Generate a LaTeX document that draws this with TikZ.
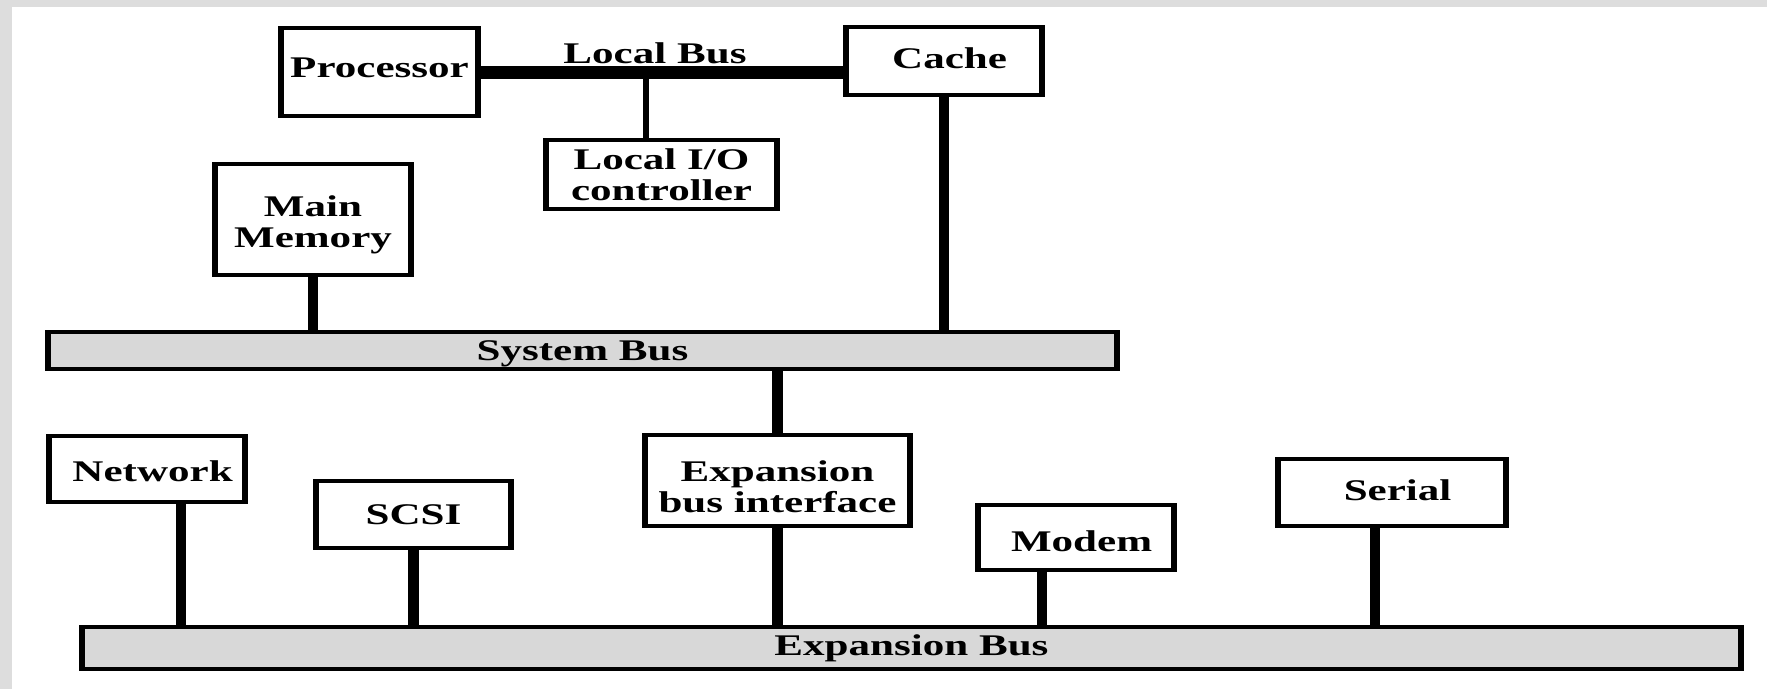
\documentclass[tikz,border=0pt]{standalone}
\usepackage{fontspec}
\setmainfont{Liberation Serif}
\definecolor{pagegrey}{RGB}{221,221,221}
\definecolor{busgrey}{RGB}{216,216,216}

\begin{document}
\begin{tikzpicture}[x=1pt,y=-1pt]
% page frame: grey strip along the top and left edges
\fill[pagegrey] (0,0) rectangle (1767,689);
\fill[white] (12,7) rectangle (1767,689);
\useasboundingbox (0,0) rectangle (1767,689);

% the whole drawing is set wide (horizontally stretched canvas)
\begin{scope}[transform canvas={xscale=1.435}, x=0.69686pt, y=-1pt,
  every node/.style={font=\bfseries\fontsize{30}{31}\selectfont, align=center, inner sep=0pt},
  unit/.style={draw, line width=4pt, fill=white},
  busbar/.style={draw, line width=4pt, fill=busgrey},
  nudge/.style={execute at begin node={\hspace*{7.8pt}}},
  link/.style={line width=7pt},
  iolink/.style={line width=4.2pt},
  localbus/.style={line width=13pt}]

  % x positions of off-centre taps
  \coordinate (xlio) at (646,0);
  \coordinate (xnet) at (181,0);
  \coordinate (xmod) at (1042,0);
  \coordinate (xser) at (1375,0);

  % processor side
  \node[unit, minimum width=137.5pt, minimum height=88pt, text depth=8pt] (proc) at (379.5,72) {Processor};
  \node[unit, nudge, minimum width=136.8pt, minimum height=68pt, text depth=6pt] (cache) at (944,61) {Cache};
  \node (lbl) at (655,53.5) {Local Bus};
  \node[unit, minimum width=161.2pt, minimum height=69pt] (lio) at (661.5,174.5) {Local I/O\\controller};
  \node[unit, minimum width=136.8pt, minimum height=111pt] (mem) at (313,219.5) {\rule{0pt}{32pt}Main\\Memory};

  % system bus
  \node[busbar, minimum width=745.1pt, minimum height=37pt, text depth=0pt] (sysbus) at (582.5,350.5) {System Bus};

  % expansion side
  \node[unit, nudge, minimum width=136.8pt, minimum height=66pt, text height=26pt] (net) at (147,469) {Network};
  \node[unit, minimum width=136.1pt, minimum height=67pt] (scsi) at (413.5,514.5) {SCSI};
  \node[unit, minimum width=184.9pt, minimum height=91pt] (ebi) at (777.5,480.5) {\rule{0pt}{33pt}Expansion\\bus interface};
  \node[unit, nudge, minimum width=136.8pt, minimum height=65pt, text height=29pt] (modem) at (1076,537.5) {Modem};
  \node[unit, nudge, minimum width=159.1pt, minimum height=67pt, text depth=5pt] (serial) at (1392,492.5) {Serial};

  % expansion bus
  \node[busbar, minimum width=1156.3pt, minimum height=42pt] (expbus) at (911.5,648) {Expansion Bus};

  % local bus and its tap
  \draw[localbus] (proc.east) -- (proc.east -| cache.west);
  \draw[iolink] (proc.east -| xlio) -- (lio.north -| xlio);

  % system bus taps
  \draw[link] (mem.south) -- (mem.south |- sysbus.north);
  \draw[link] (cache.south) -- (cache.south |- sysbus.north);
  \draw[link] (sysbus.south -| ebi.north) -- (ebi.north);

  % expansion bus taps
  \draw[link] (ebi.south) -- (ebi.south |- expbus.north);
  \draw[link] (net.south -| xnet) -- (expbus.north -| xnet);
  \draw[link] (scsi.south) -- (scsi.south |- expbus.north);
  \draw[link] (modem.south -| xmod) -- (expbus.north -| xmod);
  \draw[link] (serial.south -| xser) -- (expbus.north -| xser);
\end{scope}
\end{tikzpicture}
\end{document}
